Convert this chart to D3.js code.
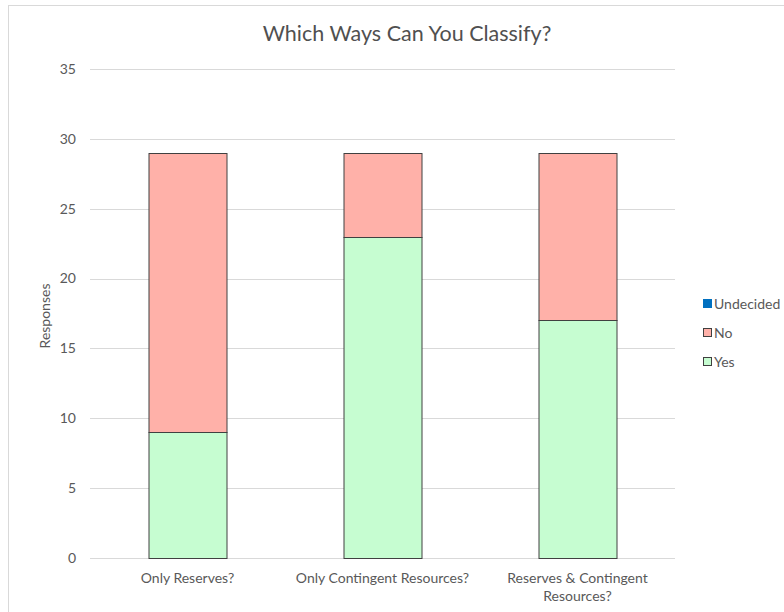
<!DOCTYPE html>
<html>
<head>
<meta charset="utf-8">
<script src="https://cdn.jsdelivr.net/npm/d3@7"></script>
<style>
  body { margin: 0; background: #fff; }
  text { font-family: Lato, "Open Sans", sans-serif; fill: #595959; }
</style>
</head>
<body>
<svg id="chart" width="784" height="612"></svg>
<script>
// chart data
const categories = ["Only Reserves?", "Only Contingent Resources?", "Reserves & Contingent Resources?"];
const yesValues = [9, 23, 17];
const noValues = [20, 6, 12];
const undecidedValues = [0, 0, 0];
const seriesNames = ["Yes", "No", "Undecided"];
const yTicks = [0, 5, 10, 15, 20, 25, 30, 35];

const colors = { Yes: "#c6fdd1", No: "#ffb1a9", Undecided: "#0070c0" };

const svg = d3.select("#chart");

// outer chart border
svg.append("rect")
    .attr("x", 8.5).attr("y", 5.5)
    .attr("width", 800).attr("height", 620)
    .attr("fill", "#fff")
    .attr("stroke", "#d9d9d9");

const margin = { left: 90, right: 675, top: 69, bottom: 558 };

const x = d3.scaleBand()
    .domain(categories)
    .range([margin.left, margin.right])
    .paddingInner(0.6)
    .paddingOuter(0.3);

const y = d3.scaleLinear()
    .domain([0, 35])
    .range([margin.bottom, margin.top]);

// gridlines
svg.append("g")
    .selectAll("line")
    .data(yTicks)
    .enter().append("line")
    .attr("x1", margin.left).attr("x2", margin.right)
    .attr("y1", d => Math.round(y(d)) + 0.5)
    .attr("y2", d => Math.round(y(d)) + 0.5)
    .attr("stroke", "#d9d9d9");

// y axis labels
svg.append("g")
    .selectAll("text")
    .data(yTicks)
    .enter().append("text")
    .attr("x", 76)
    .attr("y", d => y(d))
    .attr("dy", "0.35em")
    .attr("text-anchor", "end")
    .attr("font-size", 14)
    .text(d => d);

// stack the series
const rows = categories.map((c, i) => ({
    cat: c, Yes: yesValues[i], No: noValues[i], Undecided: undecidedValues[i]
}));
const stacked = d3.stack().keys(seriesNames)(rows);

svg.append("g")
    .selectAll("g")
    .data(stacked)
    .enter().append("g")
    .attr("fill", d => colors[d.key])
    .selectAll("rect")
    .data(d => d.filter(p => p[1] > p[0]))
    .enter().append("rect")
    .attr("x", d => x(d.data.cat) + 0.5)
    .attr("y", d => Math.round(y(d[1])) + 0.5)
    .attr("width", x.bandwidth())
    .attr("height", d => Math.round(y(d[0])) - Math.round(y(d[1])))
    .attr("stroke", "#404040")
    .attr("stroke-width", 1);

// x axis labels (wrapped like the original)
const xLabelLines = [["Only Reserves?"], ["Only Contingent Resources?"], ["Reserves & Contingent", "Resources?"]];
const xl = svg.append("g")
    .selectAll("text")
    .data(categories)
    .enter().append("text")
    .attr("x", d => x(d) + x.bandwidth() / 2)
    .attr("y", 583)
    .attr("text-anchor", "middle")
    .attr("font-size", 14);
xl.each(function (d, i) {
    d3.select(this).selectAll("tspan")
        .data(xLabelLines[i])
        .enter().append("tspan")
        .attr("x", x(d) + x.bandwidth() / 2)
        .attr("dy", (t, j) => j === 0 ? 0 : 18)
        .text(t => t);
});

// title
svg.append("text")
    .attr("x", 407).attr("y", 41)
    .attr("text-anchor", "middle")
    .attr("font-size", 21.5)
    .style("fill", "#505050")
    .text("Which Ways Can You Classify?");

// y axis title
svg.append("text")
    .attr("transform", "translate(50,316) rotate(-90)")
    .attr("text-anchor", "middle")
    .attr("font-size", 14)
    .text("Responses");

// legend
const legendItems = ["Undecided", "No", "Yes"];
const legend = svg.append("g")
    .selectAll("g")
    .data(legendItems)
    .enter().append("g")
    .attr("transform", (d, i) => `translate(703,${304 + i * 29})`);

legend.append("rect")
    .attr("x", 0.5).attr("y", -4.5)
    .attr("width", 8).attr("height", 8)
    .attr("fill", d => colors[d])
    .attr("stroke", d => d === "Undecided" ? colors[d] : "#404040");

legend.append("text")
    .attr("x", 11)
    .attr("y", 0)
    .attr("dy", "0.35em")
    .attr("font-size", 14)
    .text(d => d);
</script>
</body>
</html>
